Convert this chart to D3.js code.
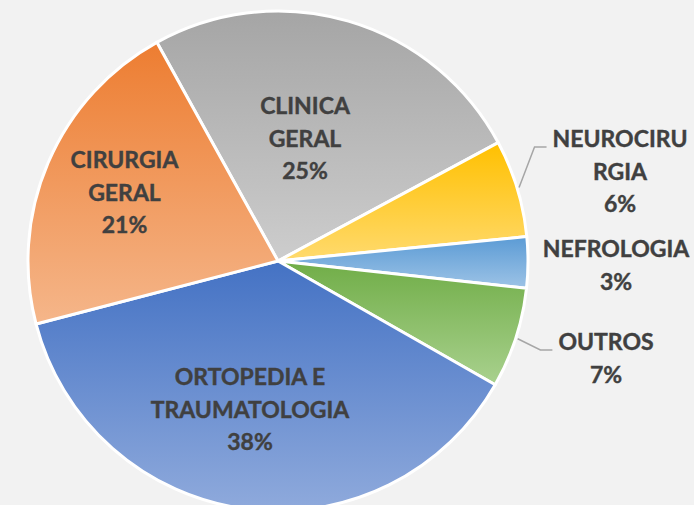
<!DOCTYPE html>
<html>
<head>
<meta charset="utf-8">
<script src="https://cdn.jsdelivr.net/npm/d3@7"></script>
<style>
  html, body { margin: 0; padding: 0; background: #f2f2f2; }
  svg { display: block; }
</style>
</head>
<body>
<svg id="chart" width="694" height="505"></svg>
<script>
// ---- data ----
const categories = ["CLINICA GERAL", "NEUROCIRURGIA", "NEFROLOGIA", "OUTROS", "ORTOPEDIA E TRAUMATOLOGIA", "CIRURGIA GERAL"];
const values = [252, 63, 33, 65, 377, 210];
const labelLines = [["CLINICA", "GERAL"], ["NEUROCIRU", "RGIA"], ["NEFROLOGIA"], ["OUTROS"], ["ORTOPEDIA E", "TRAUMATOLOGIA"], ["CIRURGIA", "GERAL"]];
const leaderLine = [false, true, false, true, false, false];

// ---- style / layout ----
const colorsTop = ["#a5a5a5", "#ffc000", "#5b9bd5", "#70ad47", "#4472c4", "#ed7d31"];
const colorsBottom = ["#cdcdcd", "#ffda6e", "#9dc3e6", "#a9d18e", "#8faadc", "#f5b68a"];
// label anchor (centre x, first baseline y)
const labelPos = [[305, 114], [620, 147], [616, 257], [606, 350], [250, 385], [124.5, 168]];
const cx = 278, cy = 261, R = 250;
const lineH = 32.5;

const svg = d3.select("#chart");
svg.append("rect").attr("width", 694).attr("height", 505).attr("fill", "#f2f2f2");

const defs = svg.append("defs");
categories.forEach((c, i) => {
  const g = defs.append("linearGradient").attr("id", "grad" + i)
    .attr("x1", 0).attr("y1", 0).attr("x2", 0).attr("y2", 1);
  g.append("stop").attr("offset", "0%").attr("stop-color", colorsTop[i]);
  g.append("stop").attr("offset", "100%").attr("stop-color", colorsBottom[i]);
});

const pie = d3.pie().sort(null).value(d => d)
  .startAngle(-29.0 * Math.PI / 180)
  .endAngle(-29.0 * Math.PI / 180 + 2 * Math.PI);
const arcs = pie(values);
const arc = d3.arc().innerRadius(0).outerRadius(R);

const g = svg.append("g").attr("transform", `translate(${cx},${cy})`);
g.selectAll("path.slice").data(arcs).enter().append("path")
  .attr("class", "slice")
  .attr("d", arc)
  .attr("fill", (d, i) => `url(#grad${i})`)
  .attr("stroke", "#ffffff")
  .attr("stroke-width", 3)
  .attr("stroke-linejoin", "round");

const total = d3.sum(values);
const fmt = v => Math.round(v * 100 / total) + "%";

const labels = svg.append("g")
  .attr("font-family", "Lato, 'Open Sans', sans-serif")
  .attr("font-weight", "bold")
  .attr("font-size", 23)
  .attr("fill", "#404040")
  .attr("stroke", "#404040")
  .attr("stroke-width", 0.4)
  .attr("text-anchor", "middle");

arcs.forEach((d, i) => {
  const lines = labelLines[i].concat([fmt(values[i])]);
  const [lx, ly] = labelPos[i];
  const t = labels.append("text").attr("x", lx).attr("y", ly);
  lines.forEach((s, k) => {
    t.append("tspan").attr("x", lx).attr("y", ly + k * lineH).text(s);
  });
  if (leaderLine[i]) {
    const mid = (d.startAngle + d.endAngle) / 2;
    const sx = cx + (R + 2) * Math.sin(mid), sy = cy - (R + 2) * Math.cos(mid);
    const firstW = t.select("tspan").node().getComputedTextLength();
    const ex = lx - firstW / 2 - 6, ey = ly;
    svg.append("polyline")
      .attr("points", `${sx},${sy} ${ex - 12},${ey} ${ex},${ey}`)
      .attr("fill", "none")
      .attr("stroke", "#a6a6a6")
      .attr("stroke-width", 1.5);
  }
});
</script>
</body>
</html>
